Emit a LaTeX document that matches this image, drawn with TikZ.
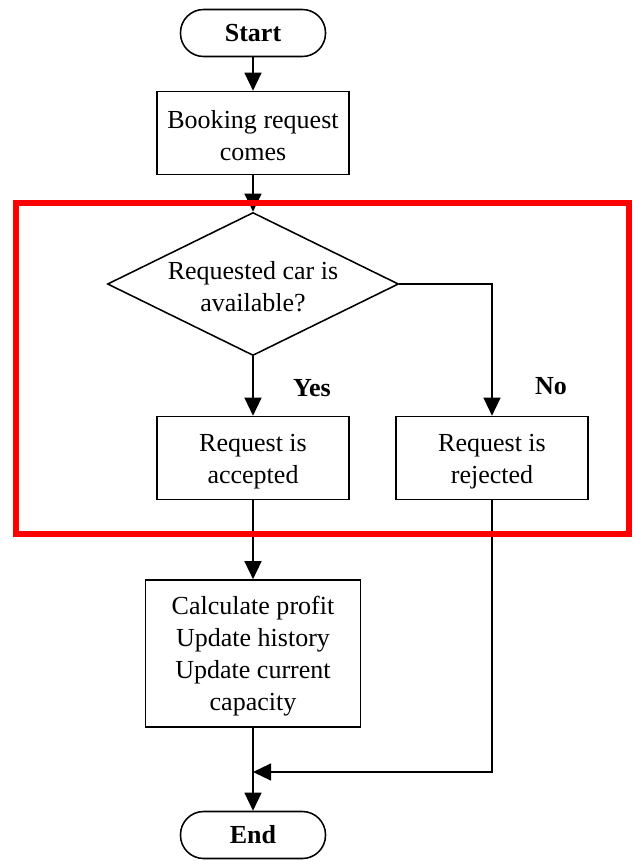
\documentclass[tikz,border=0pt]{standalone}
\usepackage{fontspec}
\setmainfont{Liberation Serif}
\usetikzlibrary{arrows.meta,shapes.geometric}
\begin{document}
\begin{tikzpicture}[x=0.025cm,y=-0.025cm]
    \useasboundingbox (0,0) rectangle (635,861);
    \tikzstyle{bout}=[draw, line width=1.1pt, rounded corners=0.58cm, minimum width=3.625cm, minimum height=1.175cm, font=\fontsize{18.5}{22.7}\selectfont\bfseries]
    \tikzstyle{boite}=[draw, line width=1.1pt, align=center, inner sep=0pt, minimum width=4.8cm, minimum height=2.075cm, font=\fontsize{18.5}{22.7}\selectfont]
    \tikzstyle{texte}=[align=center, font=\fontsize{18.5}{22.7}\selectfont]
    \tikzstyle{fleche}=[line width=1.4pt, -{Triangle[length=0.45cm,width=0.42cm]}]

    %%%%%%%%%%%%%%%%%%%%%%%%%%%%%%%%%%%%%% Boites
    \node[bout] (start) at (253,33) {Start};
    \node[boite] (booking) at (253,133) {\rule{0pt}{0.6cm}Booking request\\comes};
    \node[draw, diamond, line width=1.1pt, minimum width=7.275cm, minimum height=3.575cm, inner sep=0pt] (cond) at (253,284) {};
    \node[texte] (condtxt) at (253,287) {Requested car is\\available?};
    \node[boite] (accept) at (253,458) {\rule{0pt}{0.6cm}Request is\\accepted};
    \node[boite] (reject) at (492,458) {\rule{0pt}{0.6cm}Request is\\rejected};
    \node[boite, minimum width=5.375cm, minimum height=3.675cm] (calc) at (253,653.5) {\rule{0pt}{0.6cm}Calculate profit\\Update history\\Update current\\capacity};
    \node[bout] (end) at (253,835) {End};
    \coordinate (merge) at (253,772);

    %%%%%%%%%%%%%%%%%%%%%%%%%%%%%%%%%%%%%% Fleches
    \draw[fleche] (start) -- (booking);
    \draw[fleche] (booking) -- (cond);
    \draw[fleche] (cond) -- (accept);
    \draw[fleche] (cond.east) -| (reject);
    \draw[fleche] (accept) -- (calc);
    \draw[fleche] (calc) -- (end);
    \draw[fleche] (reject) |- (merge);

    \node[texte, font=\fontsize{18.5}{22.7}\selectfont\bfseries] (yes) at (312,388) {Yes};
    \node[texte, font=\fontsize{18.5}{22.7}\selectfont\bfseries] (no) at (551,386) {No};

    %%%%%%%%%%%%%%%%%%%%%%%%%%%%%%%%%%%%%% Cadre
    \draw[red, line width=0.15cm] (16,203) rectangle (629,534);
\end{tikzpicture}
\end{document}
